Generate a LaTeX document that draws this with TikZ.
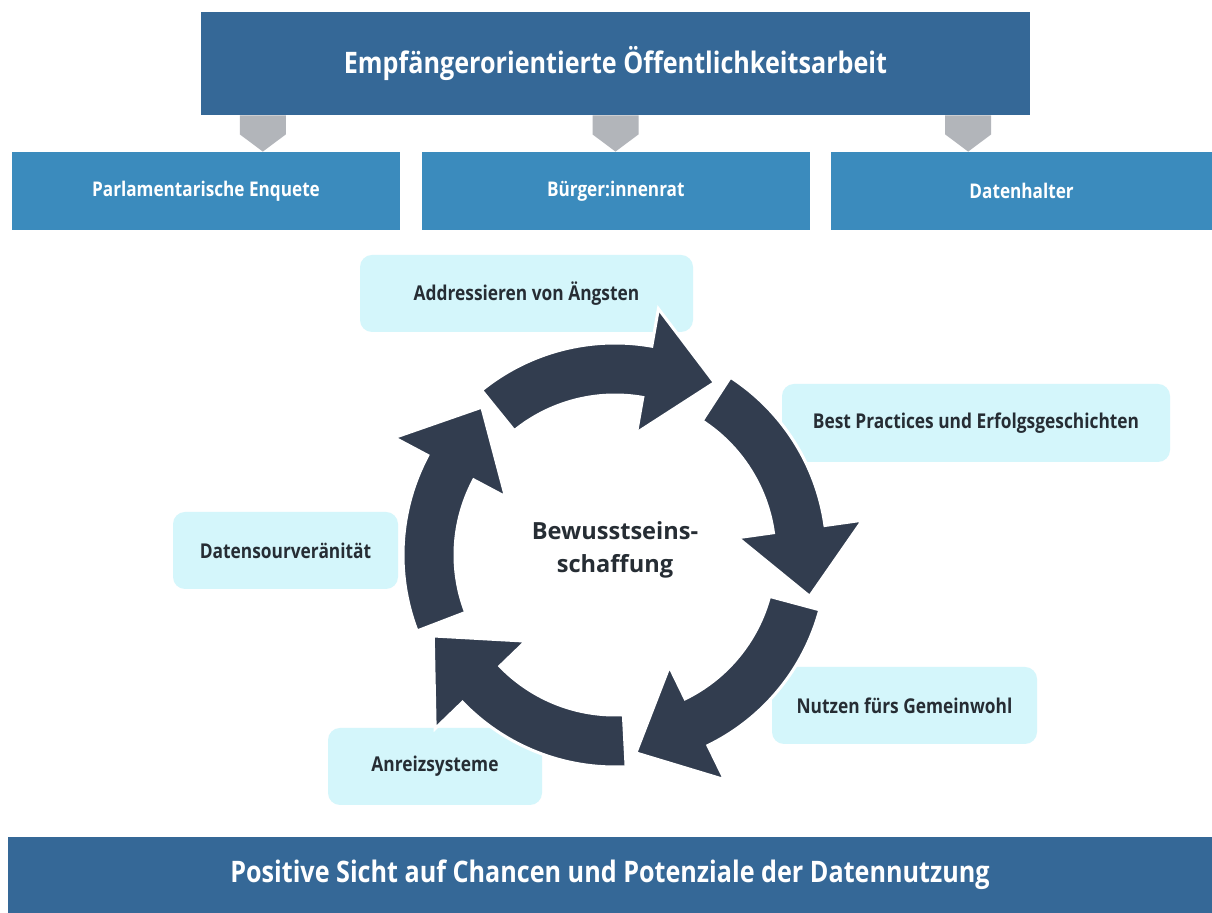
\documentclass[tikz,border=0pt]{standalone}
\usepackage{fontspec}
\setmainfont{Open Sans}
\newfontfamily\narrowsans{Open Sans}[FakeStretch=0.85]
\usetikzlibrary{positioning, calc}

\definecolor{titleblue}{RGB}{53,104,151}
\definecolor{rowblue}{RGB}{59,139,189}
\definecolor{hintcyan}{RGB}{212,246,251}
\definecolor{ringslate}{RGB}{50,61,79}
\definecolor{feedgrey}{RGB}{178,181,186}
\definecolor{labelink}{RGB}{38,45,52}

\tikzset{banner/.style={fill=titleblue, text=white, font=\narrowsans\bfseries\fontsize{14.8}{17}\selectfont, inner sep=0pt, align=center}}
\tikzset{stakeholder/.style={fill=rowblue, text=white, font=\narrowsans\bfseries\fontsize{10.1}{12}\selectfont, minimum width=194pt, minimum height=39pt, inner sep=0pt}}
\tikzset{measure/.style={fill=hintcyan, text=labelink, rounded corners=6pt, font=\narrowsans\bfseries\fontsize{10.2}{12}\selectfont, minimum height=38.5pt, inner sep=0pt}}
\tikzset{feeder/.style={fill=feedgrey}}
\tikzset{cyclearrow/.style={fill=ringslate, draw=white, line width=1.5pt, line join=miter}}

\begin{document}
\begin{tikzpicture}[x=0.5pt, y=-0.5pt]
\useasboundingbox (0,0) rectangle (1212,913);
\fill[white] (0,0) rectangle (1212,913);

\node[banner, minimum width=414.5pt, minimum height=51.5pt] (outreach) at (615.5,63.5) {Empfängerorientierte Öffentlichkeitsarbeit};
\node[stakeholder] (enquete) at (206,191) {Parlamentarische Enquete};
\node[stakeholder, right=10.5pt of enquete] (buergerrat) {Bürger:innenrat};
\node[stakeholder, right=10pt of buergerrat, minimum width=191pt] (datenhalter) {Datenhalter};

% grey feeders from the banner down to the row
\foreach \pos in {0.075, 0.5, 0.925} {
  \coordinate (src) at ($(outreach.south west)!\pos!(outreach.south east)$);
  \fill[feeder] ($(src)+(-23,0)$) -- ($(src)+(23,0)$) -- ($(src)+(23,19)$) -- (src |- enquete.north) -- ($(src)+(-23,19)$) -- cycle;
}

\node[measure, minimum width=166.5pt] (aengste) at (526.5,293.5) {Addressieren von Ängsten};
\node[measure, minimum width=194pt, minimum height=39pt] (practices) at (976,423) {Best Practices und Erfolgsgeschichten};
\node[measure, minimum width=112.5pt] (souveraenitaet) at (285.5,550.5) {Datensourveränität};
\node[measure, minimum width=132.5pt] (gemeinwohl) at (904.5,705.5) {Nutzen fürs Gemeinwohl};
\node[measure, minimum width=107pt] (anreize) at (435,766.5) {Anreizsysteme};

% five curved arrows, clockwise
\begin{scope}[shift={(615,555)}, yscale=-1]
\foreach \a in {129,57,-15,-87,-159} {
  \filldraw[cyclearrow] (\a:212) arc[start angle=\a, end angle=\a-49, radius=212]
    -- (\a-49:250) -- ($(\a-49:187)+(\a-139:68)$) -- (\a-49:124) -- (\a-49:160)
    arc[start angle=\a-49, end angle=\a, radius=160] -- cycle;
}
\end{scope}

\node[font=\bfseries\fontsize{11.8}{16.5}\selectfont, text=labelink, align=center] (awareness) at (615,550) {Bewusstseins-\\schaffung};

\node[banner, minimum width=602pt, minimum height=38pt] (outcome) at (610,875) {Positive Sicht auf Chancen und Potenziale der Datennutzung};
\end{tikzpicture}
\end{document}
